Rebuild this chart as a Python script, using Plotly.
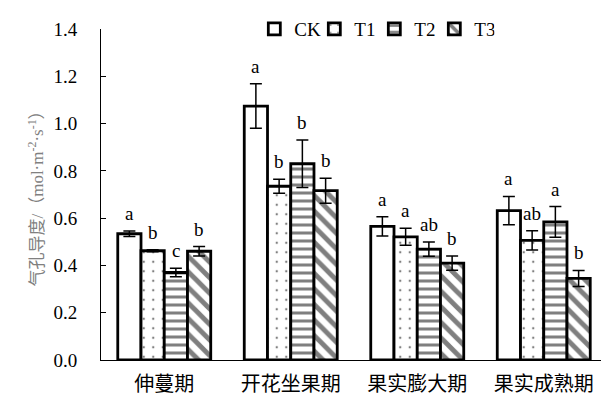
import plotly.graph_objects as go

categories = ["伸蔓期", "开花坐果期", "果实膨大期", "果实成熟期"]
series_names = ["CK", "T1", "T2", "T3"]
ck_vals = [0.534, 1.074, 0.565, 0.632]
t1_vals = [0.462, 0.735, 0.521, 0.506]
t2_vals = [0.370, 0.830, 0.469, 0.584]
t3_vals = [0.460, 0.716, 0.410, 0.345]
ck_err = [0.012, 0.094, 0.041, 0.060]
t1_err = [0.004, 0.030, 0.036, 0.041]
t2_err = [0.018, 0.100, 0.030, 0.065]
t3_err = [0.020, 0.053, 0.030, 0.034]
ck_lab = ["a", "a", "a", "a"]
t1_lab = ["b", "b", "a", "ab"]
t2_lab = ["c", "b", "ab", "a"]
t3_lab = ["b", "b", "b", "b"]
y_ticks = [0.0, 0.2, 0.4, 0.6, 0.8, 1.0, 1.2, 1.4]

values = [ck_vals, t1_vals, t2_vals, t3_vals]
errors = [ck_err, t1_err, t2_err, t3_err]
labels = [ck_lab, t1_lab, t2_lab, t3_lab]
patterns = ["", ".", "-", "\\"]
pat_size = [8, 9.5, 8, 11]
pat_sol = [0.2, 0.05, 0.38, 0.45]

FONT = "Liberation Serif, Times New Roman, Noto Sans CJK SC"
BARGAP = 0.265
n = len(series_names)
bw = (1 - BARGAP) / n
xs = list(range(len(categories)))

fig = go.Figure()
for i, name in enumerate(series_names):
    fig.add_trace(go.Bar(
        x=xs, y=values[i], name=name,
        marker=dict(color="white",
                    line=dict(color="black", width=2.8),
                    pattern=dict(shape=patterns[i], fgcolor="black", bgcolor="white",
                                 size=pat_size[i], solidity=pat_sol[i], fillmode="overlay")),
        error_y=dict(type="data", array=errors[i], visible=True,
                     color="black", thickness=1.5, width=6),
    ))
    for g in xs:
        fig.add_annotation(
            x=g - (1 - BARGAP) / 2 + bw * (i + 0.5), xref="x",
            y=values[i][g] + errors[i][g], yref="y",
            text=labels[i][g], showarrow=False, yanchor="bottom", yshift=5,
            font=dict(family=FONT, size=19, color="black"),
        )

# the page body adds an 8px margin, so the figure is sized/margined to compensate
fig.update_layout(
    width=601, height=395,
    margin=dict(l=93, r=2, t=11, b=43),
    paper_bgcolor="white", plot_bgcolor="white",
    barmode="group", bargap=BARGAP, bargroupgap=0,
    font=dict(family=FONT, size=18, color="black"),
    legend=dict(orientation="h", x=0.303, y=1.0, xanchor="left", yanchor="middle",
                font=dict(family=FONT, size=19), itemwidth=30,
                entrywidth=15, entrywidthmode="pixels",
                bgcolor="rgba(0,0,0,0)", tracegroupgap=0),
    showlegend=True,
)
fig.update_xaxes(
    range=[-0.5, len(categories) - 0.5],
    tickmode="array", tickvals=xs, ticktext=categories,
    tickson="boundaries", ticks="inside", ticklen=6, tickcolor="black",
    ticklabelstandoff=6,
    showline=True, linecolor="black", linewidth=1, showgrid=False, zeroline=False,
    tickfont=dict(family=FONT, size=20),
)
fig.update_yaxes(
    range=[0, 1.4], tickmode="array", tickvals=y_ticks,
    ticktext=[f"{v:.1f}" for v in y_ticks],
    ticks="inside", ticklen=5, tickcolor="black",
    ticklabelstandoff=19,
    showline=True, linecolor="black", linewidth=1, showgrid=False, zeroline=False,
    tickfont=dict(family=FONT, size=19),
    title=dict(text="气孔导度/（mol·m<sup>-2</sup>·s<sup>-1</sup>）",
               font=dict(family=FONT, size=17, color="#808080"), standoff=5),
)

fig.write_html("out.html")
